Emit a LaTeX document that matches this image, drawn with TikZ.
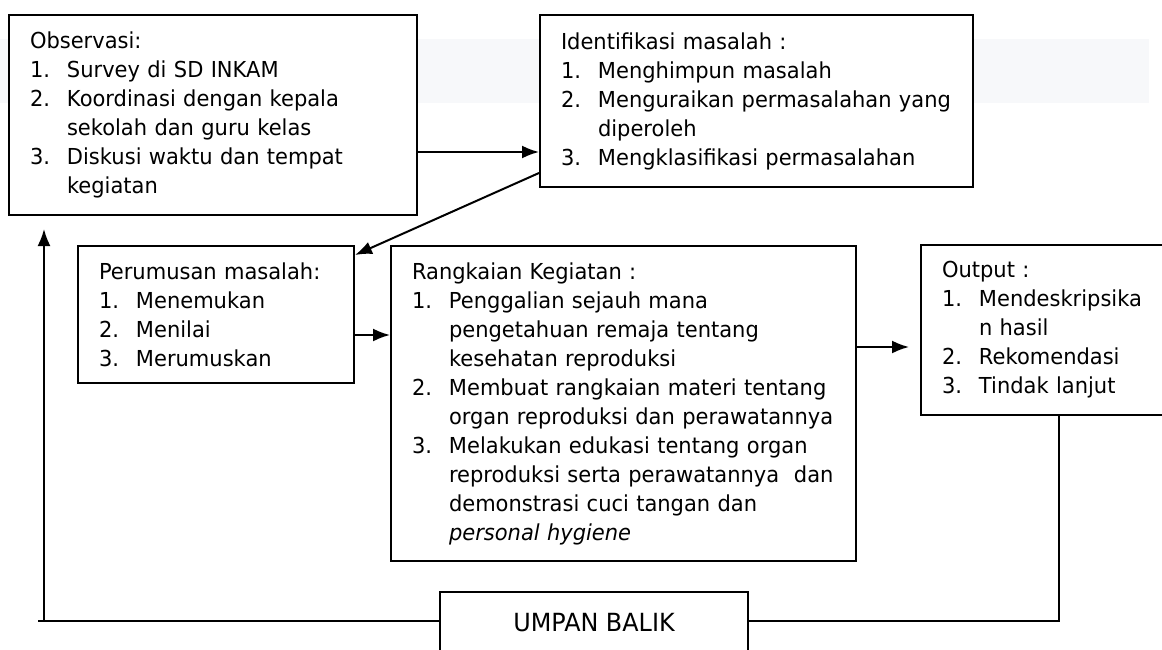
\documentclass[tikz,border=0pt]{standalone}
\usepackage{fontspec}
\setmainfont{DejaVu Sans}[FakeStretch=0.955]
\usepackage{tikz}
\usetikzlibrary{arrows,arrows.meta}
\definecolor{bandgrey}{RGB}{247,248,250}
\tikzstyle{box} = [draw,fill=white,line width=2pt,inner xsep=21pt,inner ysep=0pt,align=left,font=\fontsize{22}{29}\selectfont]
\tikzstyle{fbbox} = [draw,fill=white,line width=2pt,align=center,font=\fontsize{25}{29}\selectfont]
\tikzstyle{arrow} = [line width=2pt,-{Latex[length=17pt,width=13pt]}]
\tikzstyle{line} = [line width=2pt]
\newlength{\numw}
\setlength{\numw}{37pt}
\newcommand{\itm}[2]{\mbox{\makebox[\numw][l]{#1.}#2}}
\newcommand{\cnt}[1]{\mbox{\hspace*{\numw}#1}}

\begin{document}
\begin{tikzpicture}[x=1pt,y=-1pt]
		\useasboundingbox (0,0) rectangle (1162,650);
		\begin{scope}

		% grey band behind the top boxes
		\fill[bandgrey] (0,39) rectangle (1149,103);

		% Draw the boxes
		\node[box,text width=366pt,minimum height=200pt] (obs) at (213,115)
		{Observasi:\\
			\itm{1}{Survey di SD INKAM}\\
			\itm{2}{Koordinasi dengan kepala}\\
			\cnt{sekolah dan guru kelas}\\
			\itm{3}{Diskusi waktu dan tempat}\\
			\cnt{kegiatan}};
		\node[box,text width=391pt,minimum height=172pt] (ident) at (756.5,101)
		{Identifikasi masalah :\\
			\itm{1}{Menghimpun masalah}\\
			\itm{2}{Menguraikan permasalahan yang}\\
			\cnt{diperoleh}\\
			\itm{3}{Mengklasifikasi permasalahan}};
		\node[box,text width=234pt,minimum height=137pt] (per) at (216,314.5)
		{Perumusan masalah:\\
			\itm{1}{Menemukan}\\
			\itm{2}{Menilai}\\
			\itm{3}{Merumuskan}};
		\node[box,text width=423pt,minimum height=315pt] (rang) at (623.5,403.5)
		{Rangkaian Kegiatan :\\
			\itm{1}{Penggalian sejauh mana}\\
			\cnt{pengetahuan remaja tentang}\\
			\cnt{kesehatan reproduksi}\\
			\itm{2}{Membuat rangkaian materi tentang}\\
			\cnt{organ reproduksi dan perawatannya}\\
			\itm{3}{Melakukan edukasi tentang organ}\\
			\cnt{reproduksi serta perawatannya\ \ dan}\\
			\cnt{demonstrasi cuci tangan dan}\\
			\cnt{\textit{personal hygiene}}};
		\node[box,text width=212pt,minimum height=170pt] (out) at (1048,330)
		{Output :\\
			\itm{1}{Mendeskripsika}\\
			\cnt{n hasil}\\
			\itm{2}{Rekomendasi}\\
			\itm{3}{Tindak lanjut}};
		\node[fbbox,minimum width=308pt,minimum height=62pt] (umpan) at (594,623) {UMPAN BALIK};

		% Draw the flow
		\draw[arrow] ([yshift=-37pt]obs.east) -- ([yshift=-37pt]obs.east -| ident.west);
		\draw[arrow] ([yshift=15pt]ident.south west) -- ([yshift=-10pt]per.north east);
		\draw[arrow] ([yshift=-20.5pt]per.east) -- ([yshift=-20.5pt]per.east -| rang.west);
		\draw[arrow,shorten >=11pt] ([yshift=56.5pt]rang.east) -- ([yshift=56.5pt]rang.east -| out.west);

		% feedback loop
		\coordinate (fbturn) at (1059,621);
		\coordinate (fbend) at (38,621);
		\coordinate (fbup) at (44,621);
		\draw[line] (out.south -| fbturn) -- (fbturn) -- (fbturn -| umpan.east);
		\draw[line] (fbend -| umpan.west) -- (fbend);
		\draw[arrow] (fbup) -- ([yshift=-13pt]obs.south -| fbup);

		\end{scope}
\end{tikzpicture}
\end{document}
